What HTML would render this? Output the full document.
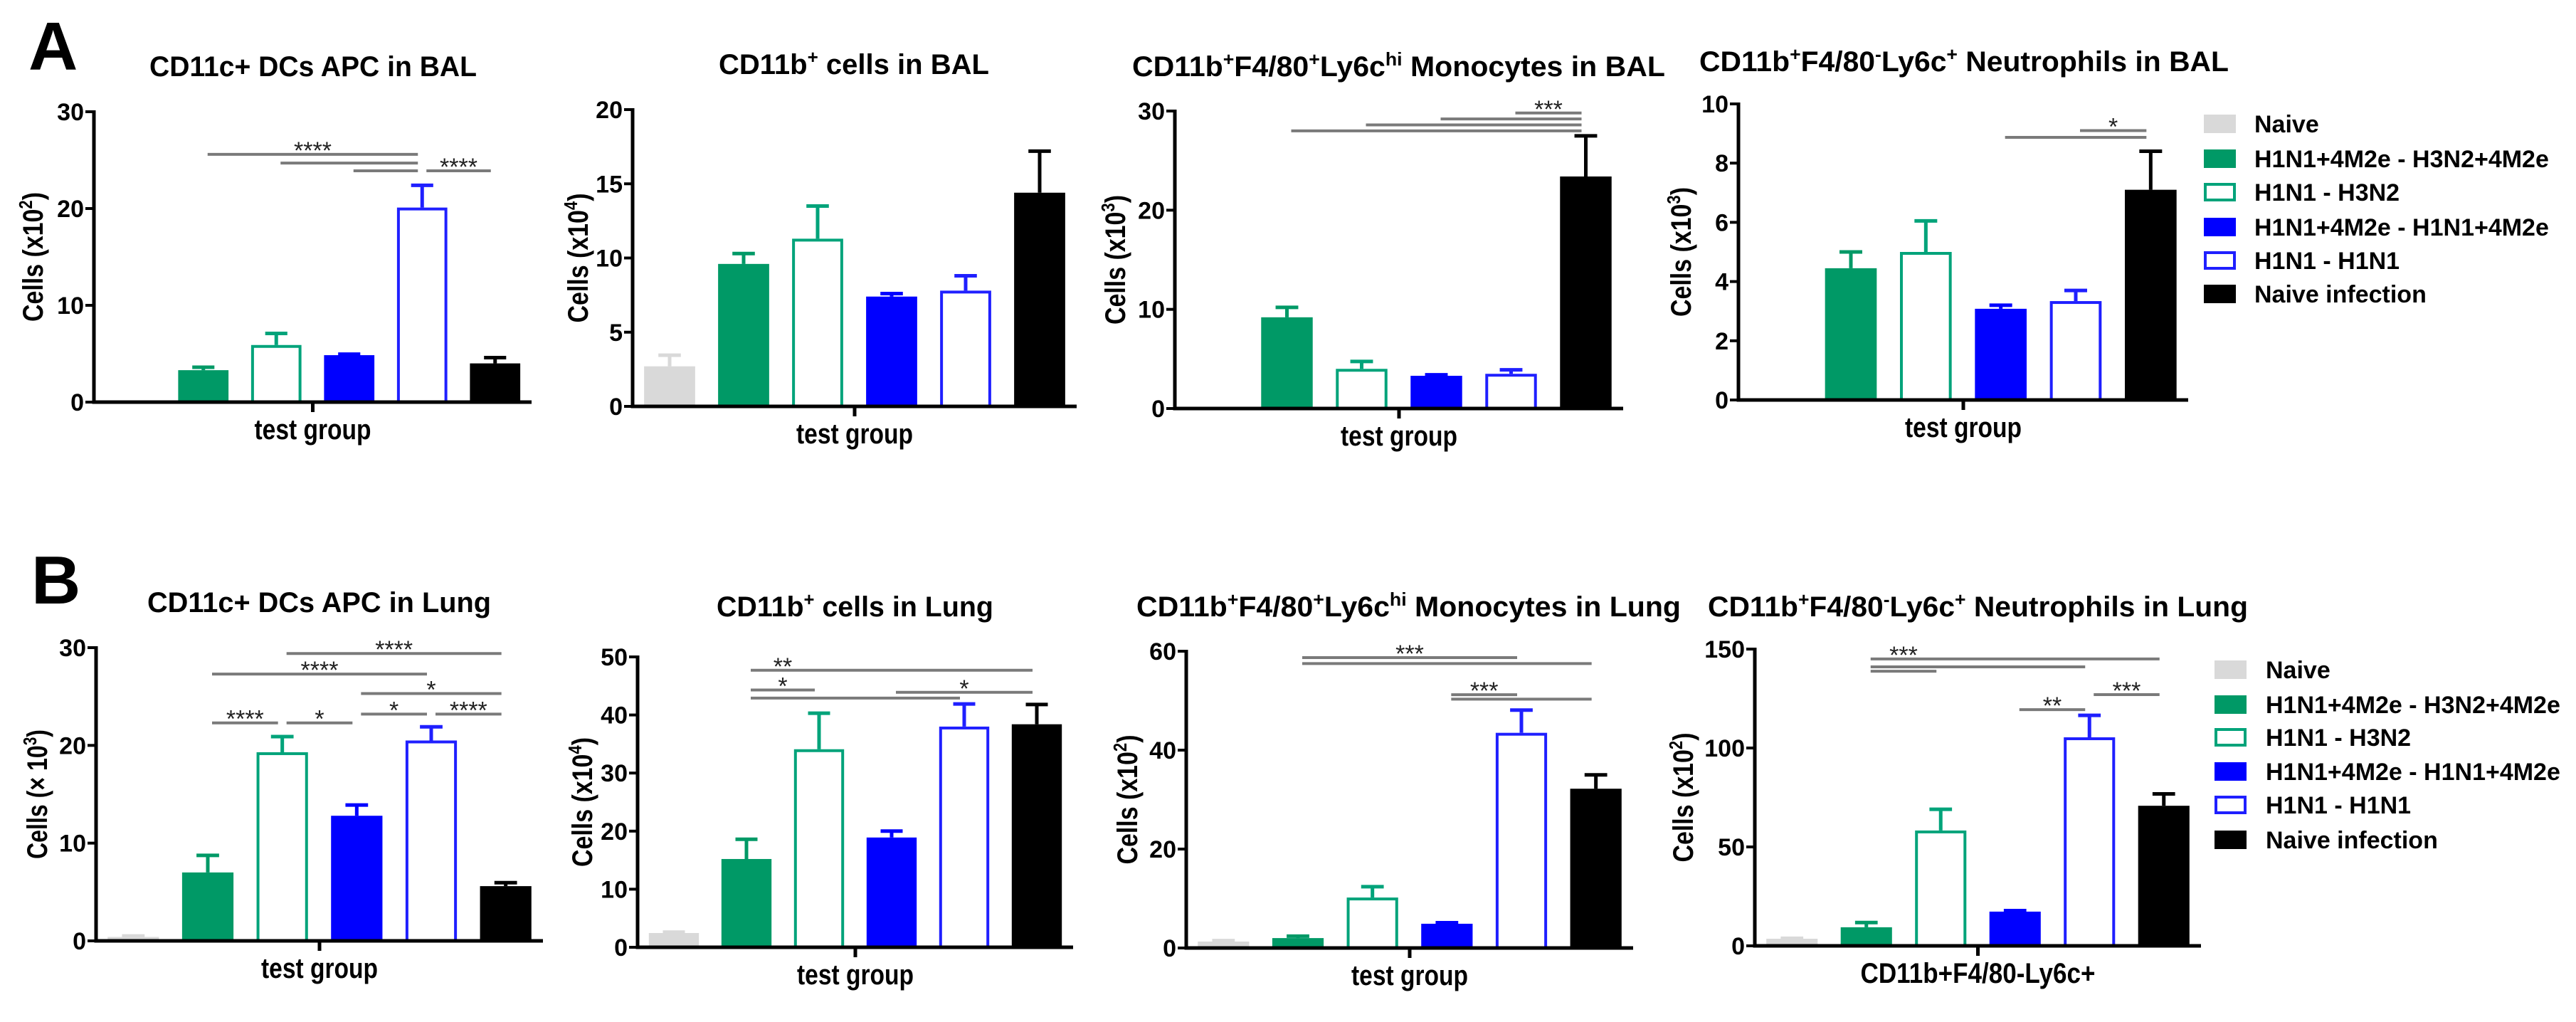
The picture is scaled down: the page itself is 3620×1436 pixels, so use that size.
<!DOCTYPE html>
<html><head><meta charset="utf-8"><style>
html,body{margin:0;padding:0;background:#fff;}
svg{display:block;font-family:"Liberation Sans",Arial,sans-serif;}
</style></head><body>
<svg id="fig" xmlns="http://www.w3.org/2000/svg" width="3620" height="1436" viewBox="0 0 3620 1436">
<rect width="3620" height="1436" fill="#fff"/>
<text x="40" y="98" font-size="96" font-weight="bold">A</text>
<text x="44" y="848" font-size="96" font-weight="bold">B</text>
<g id="legendA"></g>
<g id="legendB"></g>
</svg>
<script>
// ---- data (bar means, error-bar tops, significance brackets, stars) ----
const groups = ["Naive","H1N1+4M2e - H3N2+4M2e","H1N1 - H3N2","H1N1+4M2e - H1N1+4M2e","H1N1 - H1N1","Naive infection"];
const a1Means = [0, 3.3, 5.9, 4.85, 20.1, 4.0];
const a1Errs  = [0, 3.6, 7.1, 4.95, 22.4, 4.6];
const a1Ticks = [0, 10, 20, 30];
const a1Brackets = [[1,4,25.6],[2,4,24.7],[3,4,23.9],[4,5,23.9]];
const a1Stars = [[2.5,25.6,"****"],[4.5,23.9,"****"]];

const a2Means = [2.7, 9.6, 11.3, 7.4, 7.8, 14.4];
const a2Errs  = [3.45, 10.3, 13.5, 7.6, 8.8, 17.2];
const a2Ticks = [0, 5, 10, 15, 20];
const a2Brackets = [];
const a2Stars = [];

const a3Means = [0, 9.2, 4.0, 3.3, 3.5, 23.4];
const a3Errs  = [0, 10.2, 4.75, 3.4, 3.9, 27.5];
const a3Ticks = [0, 10, 20, 30];
const a3Brackets = [[4,5,29.8],[3,5,29.2],[2,5,28.6],[1,5,28.0]];
const a3Stars = [[4.5,29.8,"***"]];

const a4Means = [0, 4.45, 5.0, 3.08, 3.34, 7.1];
const a4Errs  = [0, 5.0, 6.05, 3.2, 3.7, 8.4];
const a4Ticks = [0, 2, 4, 6, 8, 10];
const a4Brackets = [[4,5,9.1],[3,5,8.87]];
const a4Stars = [[4.5,9.1,"*"]];

const b1Means = [0.4, 7.0, 19.3, 12.8, 20.5, 5.6];
const b1Errs  = [0.5, 8.75, 20.9, 13.9, 21.9, 5.95];
const b1Ticks = [0, 10, 20, 30];
const b1Brackets = [[2,5,29.4],[1,4,27.3],[3,5,25.3],[3,4,23.2],[4,5,23.2],[1,2,22.3],[2,3,22.3]];
const b1Stars = [[3.5,29.4,"****"],[2.5,27.3,"****"],[4,25.3,"*"],[3.5,23.2,"*"],[4.5,23.2,"****"],[1.5,22.3,"****"],[2.5,22.3,"*"]];

const b2Means = [2.45, 15.2, 34.1, 18.9, 38.0, 38.4];
const b2Errs  = [2.6, 18.6, 40.3, 20.0, 41.9, 41.8];
const b2Ticks = [0, 10, 20, 30, 40, 50];
const b2Brackets = [[1,5,47.7],[1,2,44.3],[3,5,43.9],[1,4,42.9]];
const b2Stars = [[1.5,47.7,"**"],[1.5,44.3,"*"],[4,43.9,"*"]];

const b3Means = [1.3, 2.0, 10.2, 4.9, 43.5, 32.2];
const b3Errs  = [1.5, 2.4, 12.4, 5.1, 48.1, 35.0];
const b3Ticks = [0, 20, 40, 60];
const b3Brackets = [[1,4,58.7],[1,5,57.5],[3,4,51.2],[3,5,50.3]];
const b3Stars = [[2.5,58.7,"***"],[3.5,51.2,"***"]];

const b4Means = [3.6, 9.4, 58.3, 17.3, 105.4, 70.8];
const b4Errs  = [3.8, 11.8, 69.0, 17.8, 116.5, 76.8];
const b4Ticks = [0, 50, 100, 150];
const b4Brackets = [[1,5,145],[1,4,141],[1,2,138.8],[4,5,127],[3,4,119.4]];
const b4Stars = [[1.5,145,"***"],[4.5,127,"***"],[3.5,119.4,"**"]];

// ---- styling ----
const fills  = ["#d9d9d9","#009966","none","#0000ff","none","#000000"];
const strokes= ["#d9d9d9","#009966","#00a37a","#0000ff","#1f1fff","#000000"];
const NS = "http://www.w3.org/2000/svg";
const svg = document.getElementById("fig");

function mk(tag, attrs, parent){
  const e = document.createElementNS(NS, tag);
  for (const k in attrs) e.setAttribute(k, attrs[k]);
  (parent||svg).appendChild(e);
  return e;
}

function drawChart(id, geo, means, errs, ticks, brackets, stars){
  const g = mk("g", {});
  
  
  const max = ticks[ticks.length-1];
  const y = v => geo.zero - (geo.zero - geo.top) * v / max;
  const slot = (geo.end - geo.ax) / 6;
  const cx = i => geo.ax + slot * (i + 0.5);
  const bw = slot * 0.69;

  // title
  const t = mk("text", {x: geo.tx, y: geo.ty, "font-size": 40, "font-weight": "bold", textLength: geo.tw, lengthAdjust: "spacingAndGlyphs"}, g);
  
  
  geo.title.forEach(p => {
    const ts = mk("tspan", {}, t);
    if (p[1]) { ts.setAttribute("baseline-shift", "super"); ts.setAttribute("font-size", "26"); }
    ts.textContent = p[0];
  });

  // y label
  const lx = geo.lx, ly = (geo.top + geo.zero) / 2;
  const yl = mk("text", {x: lx, y: ly, "font-size": 40, "font-weight": "bold", "text-anchor": "middle",
    transform: "rotate(-90 " + lx + " " + ly + ")", textLength: 182, lengthAdjust: "spacingAndGlyphs"}, g);
  
  
  const s1 = mk("tspan", {dy: 14}, yl); s1.textContent = "Cells (" + geo.xch + "10";
  const s2 = mk("tspan", {"baseline-shift": "super", "font-size": 26}, yl); s2.textContent = geo.exp;
  const s3 = mk("tspan", {}, yl); s3.textContent = ")";

  // bars
  means.forEach((m, i) => {
    if (m <= 0) return;
    const x0 = cx(i) - bw/2;
    const open = fills[i] === "none";
    const sw = open ? 4 : 0;
    const r = mk("rect", {x: x0 + sw/2, y: y(m) + sw/2, width: bw - sw, height: Math.max(0, geo.zero - y(m) - sw/2),
      fill: open ? "#fff" : fills[i], stroke: open ? strokes[i] : "none", "stroke-width": sw}, g);
    
    
    if (errs[i] > m) {
      const e = mk("path", {d: "M" + cx(i) + " " + y(m) + "V" + y(errs[i]) + "M" + (cx(i) - bw*0.22) + " " + y(errs[i]) + "H" + (cx(i) + bw*0.22),
        stroke: strokes[i], "stroke-width": 5, fill: "none"}, g);
      
      
    }
  });

  // axes
  const ax = mk("path", {d: "M" + geo.ax + " " + (geo.top - 2) + "V" + geo.zero + "H" + geo.end + "M" + cx(2.5) + " " + geo.zero + "v14",
    stroke: "#000", "stroke-width": 5, fill: "none"}, g);
  
  
  ticks.forEach(v => {
    const tk = mk("path", {d: "M" + (geo.ax - 12) + " " + y(v) + "H" + geo.ax, stroke: "#000", "stroke-width": 4}, g);
    
    
    const tl = mk("text", {x: geo.ax - 14, y: y(v) + 12, "font-size": 34, "font-weight": "bold", "text-anchor": "end"}, g);
    
    
    tl.textContent = v;
  });
  const xl = mk("text", {x: cx(2.5), y: geo.zero + 52, "font-size": 40, "font-weight": "bold", "text-anchor": "middle",
    textLength: geo.xw, lengthAdjust: "spacingAndGlyphs"}, g);
  
  
  xl.textContent = geo.xlabel;

  // significance
  brackets.forEach(b => {
    const l = mk("line", {x1: cx(b[0]) + 6, x2: cx(b[1]) - 6, y1: y(b[2]), y2: y(b[2]), stroke: "#7a7a7a", "stroke-width": 4}, g);
    
    
  });
  stars.forEach(s => {
    const st = mk("text", {x: cx(s[0]), y: y(s[1]) + 6, "font-size": 34, "text-anchor": "middle", fill: "#222"}, g);
    
    
    st.textContent = s[2];
  });
}

const tg = "test group";
drawChart("bal-dc", {ax:132, top:157, zero:565, end:747, lx:46, tx:210, ty:107, tw:460, xch:"x", exp:"2", xlabel:tg, xw:164,
  title:[["CD11c+ DCs APC in BAL",0]]}, a1Means, a1Errs, a1Ticks, a1Brackets, a1Stars);
drawChart("bal-cd11b", {ax:889, top:154, zero:571, end:1513, lx:812, tx:1010, ty:104, tw:380, xch:"x", exp:"4", xlabel:tg, xw:164,
  title:[["CD11b",0],["+",1],[" cells in BAL",0]]}, a2Means, a2Errs, a2Ticks, a2Brackets, a2Stars);
drawChart("bal-monocytes", {ax:1651, top:156, zero:574, end:2281, lx:1567, tx:1591, ty:107, tw:749, xch:"x", exp:"3", xlabel:tg, xw:164,
  title:[["CD11b",0],["+",1],["F4/80",0],["+",1],["Ly6c",0],["hi",1],[" Monocytes in BAL",0]]}, a3Means, a3Errs, a3Ticks, a3Brackets, a3Stars);
drawChart("bal-neutrophils", {ax:2443, top:146, zero:562, end:3075, lx:2362, tx:2388, ty:100, tw:744, xch:"x", exp:"3", xlabel:tg, xw:164,
  title:[["CD11b",0],["+",1],["F4/80",0],["-",1],["Ly6c",0],["+",1],[" Neutrophils in BAL",0]]}, a4Means, a4Errs, a4Ticks, a4Brackets, a4Stars);

drawChart("lung-dc", {ax:135, top:910, zero:1322, end:763, lx:52, tx:207, ty:860, tw:483, xch:"× ", exp:"3", xlabel:tg, xw:164,
  title:[["CD11c+ DCs APC in Lung",0]]}, b1Means, b1Errs, b1Ticks, b1Brackets, b1Stars);
drawChart("lung-cd11b", {ax:896, top:923, zero:1331, end:1508, lx:818, tx:1007, ty:866, tw:389, xch:"x", exp:"4", xlabel:tg, xw:164,
  title:[["CD11b",0],["+",1],[" cells in Lung",0]]}, b2Means, b2Errs, b2Ticks, b2Brackets, b2Stars);
drawChart("lung-monocytes", {ax:1667, top:915, zero:1332, end:2295, lx:1584, tx:1597, ty:866, tw:765, xch:"x", exp:"2", xlabel:tg, xw:164,
  title:[["CD11b",0],["+",1],["F4/80",0],["+",1],["Ly6c",0],["hi",1],[" Monocytes in Lung",0]]}, b3Means, b3Errs, b3Ticks, b3Brackets, b3Stars);
drawChart("lung-neutrophils", {ax:2466, top:912, zero:1329, end:3093, lx:2365, tx:2400, ty:866, tw:759, xch:"x", exp:"2", xlabel:"CD11b+F4/80-Ly6c+", xw:330,
  title:[["CD11b",0],["+",1],["F4/80",0],["-",1],["Ly6c",0],["+",1],[" Neutrophils in Lung",0]]}, b4Means, b4Errs, b4Ticks, b4Brackets, b4Stars);

function legend(gid, sx, tx, rows){
  const g = document.getElementById(gid);
  groups.forEach((name, i) => {
    const cy = rows[i];
    const open = fills[i] === "none";
    const r = mk("rect", {x: sx + (open?2:0), y: cy - 13 + (open?2:0), width: open?41:45, height: open?22:26,
      fill: open ? "#fff" : fills[i], stroke: open ? strokes[i] : "none", "stroke-width": open?4:0}, g);
    
    
    const t = mk("text", {x: tx, y: cy + 12, "font-size": 34, "font-weight": "bold"}, g);
    
    
    t.textContent = name;
  });
}
legend("legendA", 3097, 3168, [174,223,270,319,366,413]);
legend("legendB", 3112, 3184, [941,990,1036,1084,1131,1180]);
</script>
</body></html>
